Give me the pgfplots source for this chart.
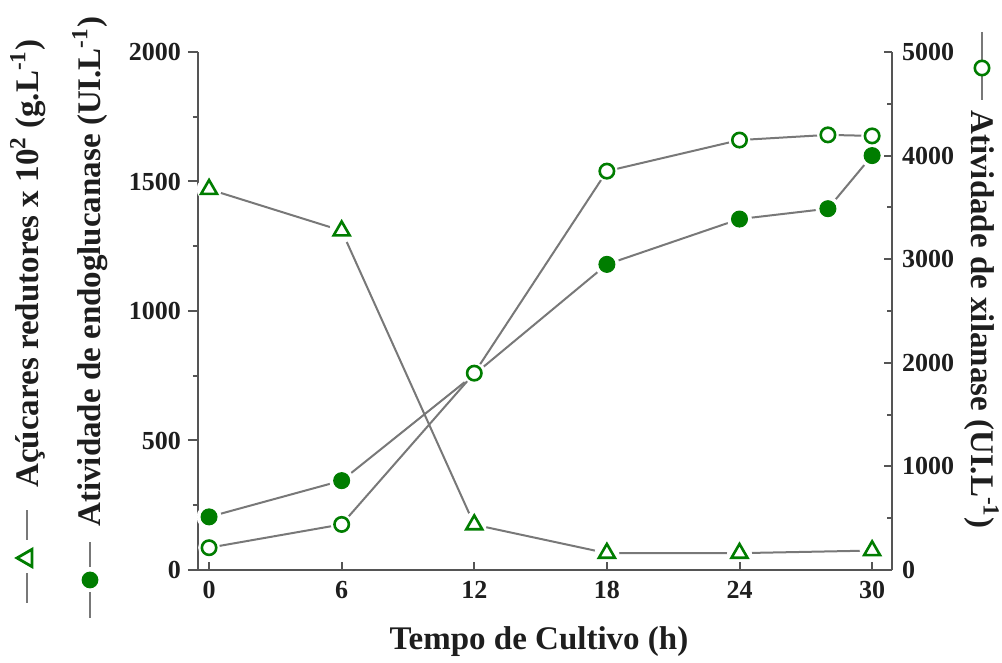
\documentclass[border=0pt]{standalone}
\usepackage{fontspec}
\setmainfont{Liberation Serif}
\usepackage{pgfplots}
\pgfplotsset{compat=1.18}

\definecolor{mkgreen}{RGB}{0,125,0}
\definecolor{lngray}{RGB}{120,120,120}
\definecolor{axgray}{RGB}{85,85,85}
\definecolor{txt}{RGB}{30,30,30}

\newcommand{\lfont}{\bfseries\fontsize{16.5}{18}\selectfont}

\pgfplotsset{
  common/.style={
    scale only axis, width=347pt, height=259pt,
    at={(99pt,46.5pt)}, anchor=south west,
    xmin=-0.5, xmax=30.9,
    axis line style={axgray, line width=1.1pt},
    every tick/.style={axgray, line width=1pt},
    major tick length=5pt, minor tick length=2.5pt,
    tick label style={font=\bfseries\fontsize{13}{13}\selectfont, text=txt},
    /pgf/number format/assume math mode=true,
    /pgf/number format/1000 sep={},
    clip=false,
  },
  trend/.style={lngray, line width=1pt, no marks},
  halo/.style={white, only marks, mark=*, mark size=#1, mark options={draw=white, fill=white}},
}

\begin{document}
\begin{tikzpicture}
\useasboundingbox (0,0) rectangle (501pt,331.5pt);

% left scale: reducing sugars and endoglucanase
\begin{axis}[common,
  ymin=0, ymax=2000,
  ytick={0,500,...,2000}, minor ytick={250,750,1250,1750},
  xtick=\empty,
  axis x line*=bottom, axis y line*=left,
  tick align=outside,
]
  % reducing sugars (x 10^2 g/L)
  \addplot[trend] table {
    x y
    0 1470
    6 1310
    12 175
    18 65
    24 65
    30 75
  };
  % endoglucanase (UI/L)
  \addplot[trend] table {
    x y
    0 205
    6 345
    12 755
    18 1180
    24 1355
    28 1395
    30 1600
  };
  \addplot[halo=6pt] table {
    x y
    0 1470
    6 1310
    12 175
    18 65
    24 65
    30 75
  };
  \addplot[halo=6pt] table {
    x y
    0 205
    6 345
    12 755
    18 1180
    24 1355
    28 1395
    30 1600
  };
  \addplot[only marks, mark=triangle, mark size=4.6pt,
    mark options={draw=mkgreen, fill=white, line width=1.3pt}] table {
    x y
    0 1470
    6 1310
    12 175
    18 65
    24 65
    30 75
  };
  \addplot[only marks, mark=*, mark size=4pt,
    mark options={draw=mkgreen, fill=mkgreen, line width=0.5pt}] table {
    x y
    0 205
    6 345
    12 755
    18 1180
    24 1355
    28 1395
    30 1600
  };
\end{axis}

% right scale: xylanase
\begin{axis}[common,
  ymin=0, ymax=5000,
  ytick={0,1000,...,5000}, minor ytick={500,1500,2500,3500,4500},
  xtick={0,6,...,30},
  axis x line*=bottom, axis y line*=right,
  tick align=inside,
  major tick length=4pt, minor tick length=2.5pt,
  xticklabel style={yshift=-2.2pt},
  yticklabel style={xshift=1.5pt},
]
  \addplot[trend] table {
    x y
    0 215
    6 440
    12 1900
    18 3850
    24 4150
    28 4200
    30 4190
  };
  \addplot[halo=5.2pt] table {
    x y
    0 215
    6 440
    12 1900
    18 3850
    24 4150
    28 4200
    30 4190
  };
  \addplot[only marks, mark=o, mark size=3.6pt,
    mark options={draw=mkgreen, fill=white, line width=1.3pt}] table {
    x y
    0 215
    6 440
    12 1900
    18 3850
    24 4150
    28 4200
    30 4190
  };
\end{axis}

% axis titles with their keys
\node[anchor=base, inner sep=0pt, font=\lfont, text=txt] at (269.5pt,6.5pt) {Tempo de Cultivo (h)};

\begin{scope}[shift={(19pt,30pt)}, rotate=90, transform shape]
  \draw[lngray, line width=1pt] (0,5.5pt) -- (15pt,5.5pt) (31.5pt,5.5pt) -- (46.5pt,5.5pt);
  \draw[mkgreen, line width=1.4pt, fill=white]
    (22.5pt,5.5pt) ++(90:5pt) -- ++(-120:8.66pt) -- ++(0:8.66pt) -- cycle;
  \node[anchor=base west, inner sep=0pt, font=\lfont, text=txt] at (57.5pt,0)
    {Açúcares redutores x 10\textsuperscript{2} (g.L\textsuperscript{-1})};
\end{scope}

\begin{scope}[shift={(50pt,22.5pt)}, rotate=90, transform shape]
  \draw[lngray, line width=1pt] (0,5pt) -- (13pt,5pt) (25.5pt,5pt) -- (38pt,5pt);
  \fill[mkgreen] (19pt,5pt) circle[radius=4.2pt];
  \node[anchor=base west, inner sep=0pt, font=\lfont, text=txt] at (45.5pt,0)
    {Atividade de endoglucanase (UI.L\textsuperscript{-1})};
\end{scope}

\begin{scope}[shift={(485.5pt,315.5pt)}, rotate=-90, transform shape]
  \draw[lngray, line width=1pt] (0,5.5pt) -- (15pt,5.5pt) (21.5pt,5.5pt) -- (34pt,5.5pt);
  \draw[mkgreen, line width=1.3pt, fill=white] (18pt,5.5pt) circle[radius=3.6pt];
  \node[anchor=base west, inner sep=0pt, font=\lfont, text=txt] at (39pt,0)
    {Atividade de xilanase (UI.L\textsuperscript{-1})};
\end{scope}
\end{tikzpicture}
\end{document}
